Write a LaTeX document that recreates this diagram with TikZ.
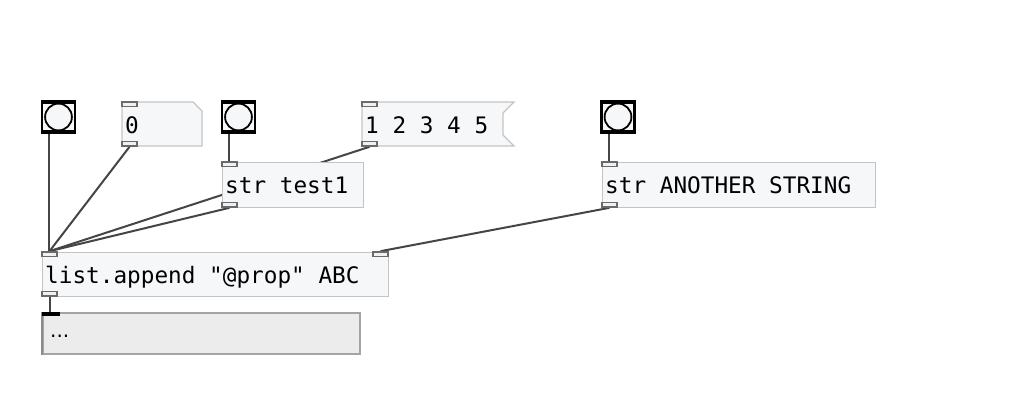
\documentclass[tikz,border=0pt]{standalone}
\usepackage{fontspec}
\usetikzlibrary{backgrounds}
\newfontfamily\pdmono{DejaVu Sans Mono}
\newfontfamily\pdsans{DejaVu Sans}
\definecolor{boxfill}{HTML}{F6F7F9}
\definecolor{boxedge}{HTML}{C4C4C4}
\definecolor{ioedge}{HTML}{6A6A6A}
\definecolor{iofill}{HTML}{F0F0F0}
\definecolor{wirecol}{HTML}{454545}
\definecolor{outfill}{HTML}{ECECEC}
\definecolor{outedge}{HTML}{A4A4A4}
\definecolor{outdark}{HTML}{8C8C8C}

\tikzset{
  obj/.style={draw=boxedge, fill=boxfill, line width=1.4, anchor=north west, inner sep=0, minimum height=45},
  iolet/.style={draw=ioedge, fill=iofill, line width=1.5, inner sep=0, minimum width=15, minimum height=4.5},
  bang/.style={draw=black, fill=boxfill, line width=2.2, inner sep=0, minimum width=33, minimum height=32},
  bangbar/.style={fill=black, inner sep=0, minimum width=33, minimum height=3.5},
  pdtext/.style={anchor=base west, inner sep=0, font=\pdmono\fontsize{22.7}{27}\selectfont},
  wire/.style={draw=wirecol, line width=2}
}

\begin{document}
\begin{tikzpicture}[x=1pt,y=-1pt]
\useasboundingbox (0,0) rectangle (1011,417);

%%%%% bangs
\node[bang] (b1) at (58.5,117) {};
\draw[line width=1.8] (b1) circle (13.4);
\node[bangbar] at (58.5,102.5) {};
\node[bangbar] at (58.5,131.5) {};
\coordinate (b1out) at (49,133);

\node[bang] (b2) at (238.5,117) {};
\draw[line width=1.8] (b2) circle (13.4);
\node[bangbar] at (238.5,102.5) {};
\node[bangbar] at (238.5,131.5) {};
\coordinate (b2out) at (229,133);

\node[bang] (b3) at (618,117) {};
\draw[line width=1.8] (b3) circle (13.4);
\node[bangbar] at (618,102.5) {};
\node[bangbar] at (618,131.5) {};
\coordinate (b3out) at (609,133);

%%%%% atom and message
\draw[draw=boxedge, fill=boxfill, line width=1.4] (122,102) -- (193,102) -- (202,111) -- (202,146) -- (122,146) -- cycle;
\node[pdtext] (a0txt) at (125,133) {0};
\draw[draw=boxedge, fill=boxfill, line width=1.4] (362,102) -- (514,102) -- (503,113) -- (503,135) -- (514,146) -- (362,146) -- cycle;
\node[pdtext] (m1txt) at (365,133) {1 2 3 4 5};

%%%%% objects
\node[obj, minimum width=141] (s1) at (222,162) {};
\node[pdtext] at (225,193) {str test1};
\node[obj, minimum width=273] (s2) at (602,162) {};
\node[pdtext] at (605,193) {str ANOTHER STRING};
\node[obj, minimum width=346, minimum height=44] (lst) at (42,252) {};
\node[pdtext] at (45,283) {list.append "@prop" ABC};

%%%%% output box
\node[draw=outedge, fill=outfill, line width=2.2, anchor=north west, inner sep=0, minimum width=317, minimum height=41] (out) at (42,312) {};
\draw[draw=outdark, line width=2.6] (out.north west) -- (out.south west);
\node[anchor=base west, inner sep=0, font=\pdsans\fontsize{20}{24}\selectfont] at (50,337) {...};

%%%%% inlets / outlets
\node[iolet] (a0in) at (129.5,104.2) {};
\node[iolet] (a0out) at (129.5,143.8) {};
\node[iolet] (m1in) at (369.5,104.2) {};
\node[iolet] (m1out) at (369.5,143.8) {};
\node[iolet] (s1in) at (229.5,164.2) {};
\node[iolet] (s1out) at (229.5,204.8) {};
\node[iolet] (s2in) at (609.5,164.2) {};
\node[iolet] (s2out) at (609.5,204.8) {};
\node[iolet] (lin) at (49.5,254.2) {};
\node[iolet] (rin) at (380.5,254.2) {};
\node[iolet] (lout) at (49.5,293.8) {};
\node[fill=black, inner sep=0, minimum width=18, minimum height=4.5] (outin) at (51,314) {};

%%%%% connections
\begin{scope}[on background layer]
\draw[wire] (b1out) -- (b1out |- lin.north);
\draw[wire] (a0out.south) -- (lin.north);
\draw[wire] (m1out.south) -- (lin.north);
\draw[wire] (s1out.south) -- (lin.north);
\draw[wire] (b2out) -- (b2out |- s1in.north);
\draw[wire] (b3out) -- (b3out |- s2in.north);
\draw[wire] (s2out.south) -- (rin.north);
\draw[wire] (lout.south) -- (lout.south |- outin.north);
\end{scope}
\end{tikzpicture}
\end{document}
